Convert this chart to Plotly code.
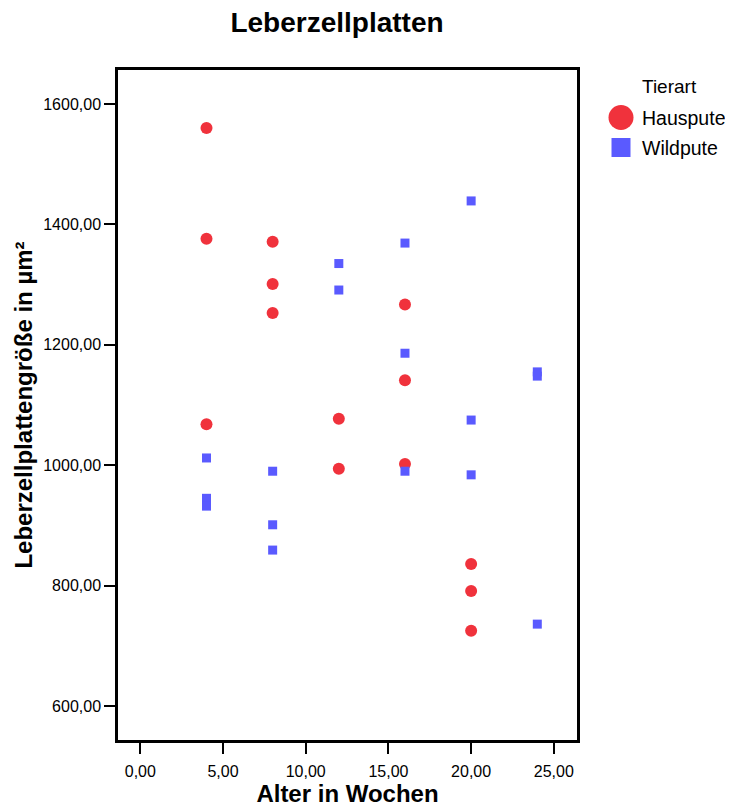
import plotly.graph_objects as go

haus_x = [4, 4, 4, 8, 8, 8, 12, 12, 16, 16, 16, 20, 20, 20]
haus_y = [1560, 1376, 1068, 1371, 1301, 1253, 1077, 994, 1267, 1141, 1002, 836, 791, 725]

wild_x = [4, 4, 4, 8, 8, 8, 12, 12, 16, 16, 16, 20, 20, 20, 24, 24, 24]
wild_y = [1012, 945, 932, 990, 901, 859, 1335, 1291, 1369, 1186, 990, 1439, 1075, 984, 1155, 1148, 736]

x_ticks = [0, 5, 10, 15, 20, 25]
x_ticklabels = ["0,00", "5,00", "10,00", "15,00", "20,00", "25,00"]
y_ticks = [600, 800, 1000, 1200, 1400, 1600]
y_ticklabels = ["600,00", "800,00", "1000,00", "1200,00", "1400,00", "1600,00"]

legend_title = "Tierart"
series_names = ["Hauspute", "Wildpute"]

red = "#F0323C"
blue = "#5A5AFF"
font = "Liberation Sans, Arial, sans-serif"

W, H = 725, 802
L, R, T, B = 110, 156, 62, 70
pw, ph = W - L - R, H - T - B


def px_x(p):  # figure pixel -> paper x
    return (p - L) / pw


def px_y(p):  # figure pixel -> paper y
    return (H - B - p) / ph


fig = go.Figure()
fig.add_trace(go.Scatter(x=haus_x, y=haus_y, mode="markers", name=series_names[0],
                         marker=dict(symbol="circle", size=12, color=red), showlegend=False))
fig.add_trace(go.Scatter(x=wild_x, y=wild_y, mode="markers", name=series_names[1],
                         marker=dict(symbol="square", size=9, color=blue), showlegend=False))

# manual legend (page coords minus 8px body offset)
leg_cx = 621 - 8
shapes = [
    dict(type="circle", xref="paper", yref="paper", xsizemode="pixel", ysizemode="pixel",
         xanchor=px_x(leg_cx), yanchor=px_y(117.5 - 8), x0=-12.5, x1=12.5, y0=-12.5, y1=12.5,
         fillcolor=red, line=dict(width=0)),
    dict(type="rect", xref="paper", yref="paper", xsizemode="pixel", ysizemode="pixel",
         xanchor=px_x(leg_cx), yanchor=px_y(147.5 - 8), x0=-9.5, x1=9.5, y0=-9.5, y1=9.5,
         fillcolor=blue, line=dict(width=0)),
]
annotations = [
    dict(text=legend_title, xref="paper", yref="paper", x=px_x(640 - 8), y=px_y(87 - 8),
         xanchor="left", yanchor="middle", showarrow=False, font=dict(size=19, family=font, color="black")),
    dict(text=series_names[0], xref="paper", yref="paper", x=px_x(640 - 8), y=px_y(117.5 - 8),
         xanchor="left", yanchor="middle", showarrow=False, font=dict(size=19.5, family=font, color="black")),
    dict(text=series_names[1], xref="paper", yref="paper", x=px_x(640 - 8), y=px_y(148 - 8),
         xanchor="left", yanchor="middle", showarrow=False, font=dict(size=19.5, family=font, color="black")),
]

fig.update_layout(
    width=W, height=H,
    margin=dict(l=L, r=R, t=T, b=B),
    paper_bgcolor="white", plot_bgcolor="white",
    font=dict(family=font, color="black"),
    showlegend=False,
    shapes=shapes, annotations=annotations,
    title=dict(text="<b>Leberzellplatten</b>", x=(337 - 8) / W, xanchor="center",
               y=1 - (22 - 8) / H, yanchor="middle",
               font=dict(size=28, family=font, color="black")),
    xaxis=dict(range=[-1.35, 26.4], tickvals=x_ticks, ticktext=x_ticklabels,
               showgrid=False, zeroline=False, showline=True, linecolor="black", linewidth=2.5,
               mirror=True, ticks="outside", ticklen=11, tickwidth=2, tickcolor="black",
               tickfont=dict(size=16), ticklabelstandoff=4, automargin=False,
               title=dict(text="<b>Alter in Wochen</b>", font=dict(size=24), standoff=5)),
    yaxis=dict(range=[543.5, 1656.5], tickvals=y_ticks, ticktext=y_ticklabels,
               showgrid=False, zeroline=False, showline=True, linecolor="black", linewidth=2.5,
               mirror=True, ticks="outside", ticklen=11, tickwidth=2, tickcolor="black",
               tickfont=dict(size=16), automargin=False,
               title=dict(text="<b>Leberzellplattengröße in µm²</b>", font=dict(size=24), standoff=4)),
)

fig.write_html("out.html")
